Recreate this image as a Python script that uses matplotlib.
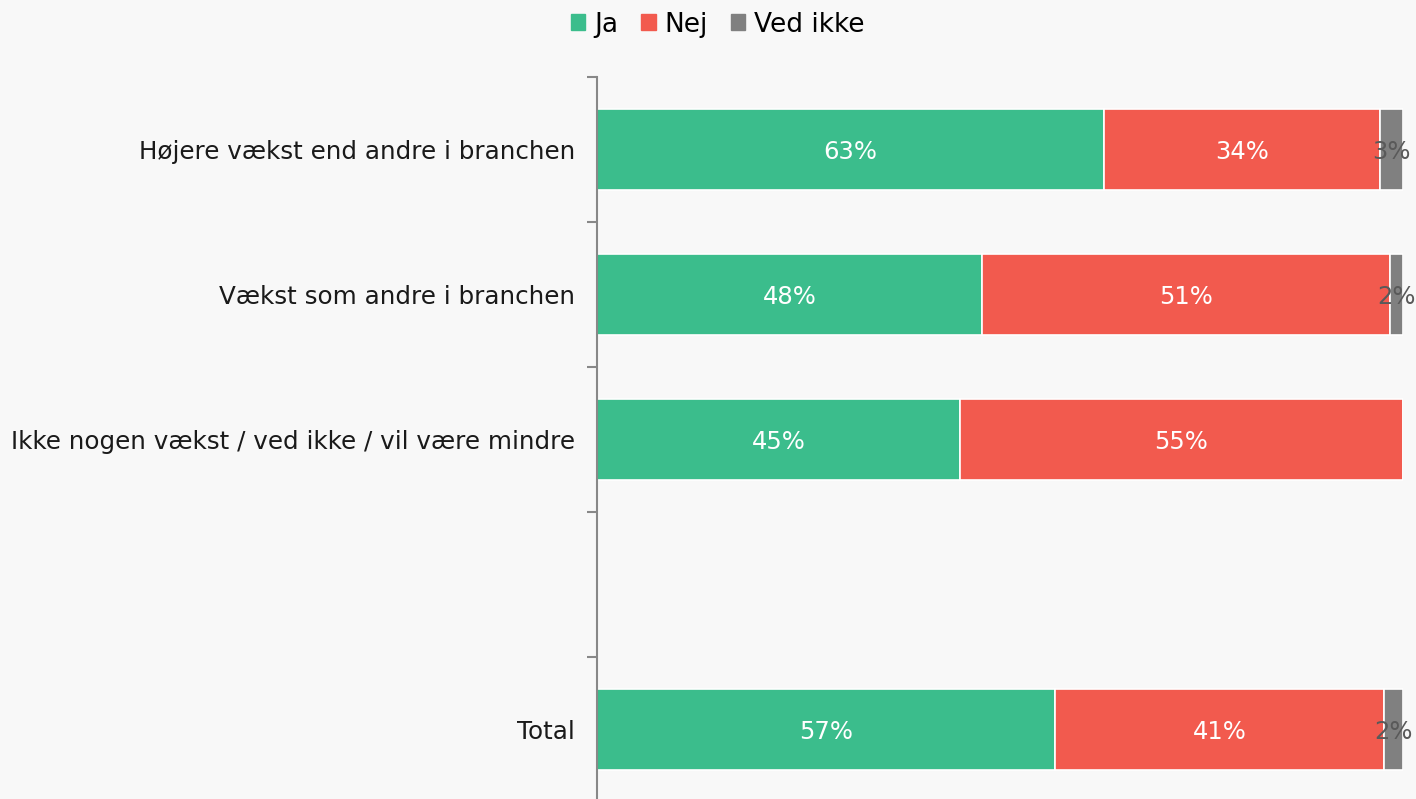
import matplotlib.pyplot as plt
import numpy as np
from matplotlib.patches import Patch
from matplotlib.ticker import FixedLocator

categories = ["Højere vækst end andre i branchen", "Vækst som andre i branchen",
              "Ikke nogen vækst / ved ikke / vil være mindre", "Total"]
slots = [0, 1, 2, 4]  # slot 3 is left empty
ja = [62.9, 47.8, 45.0, 56.8]
nej = [34.3, 50.6, 55.0, 40.9]
ved_ikke = [2.8, 1.6, 0.0, 2.3]
series = ["Ja", "Nej", "Ved ikke"]
colors = ["#3bbd8c", "#f25a4e", "#808080"]
text_colors = ["white", "white", "#595959"]

plt.rcParams['font.family'] = ['DejaVu Sans']
fig = plt.figure(figsize=(14.16, 7.99), dpi=100)
fig.patch.set_facecolor('#f8f8f8')
ax = fig.add_axes([597/1416, -3/799, (1403-597)/1416, (802-77)/799])
ax.set_facecolor('#f8f8f8')

left = np.zeros(len(slots))
for name, vals, c, tc in zip(series, [ja, nej, ved_ikke], colors, text_colors):
	vals = np.array(vals)
	ax.barh(slots, vals, left=left, height=0.555, color=c, edgecolor='white', linewidth=1.2)
	for y, l, v in zip(slots, left, vals):
		if v > 0:
			ax.text(l + v/2, y + 0.02, f"{v:.0f}%", ha='center', va='center', color=tc, fontsize=17.5)
	left += vals

ax.set_xlim(0, 100)
ax.set_ylim(4.5, -0.5)
ax.set_yticks(slots)
ax.set_yticklabels(categories, fontsize=17.7, color='#1a1a1a')
ax.yaxis.set_minor_locator(FixedLocator(np.arange(-0.5, 5.0, 1)))
ax.tick_params(axis='y', which='major', length=0, pad=16)
ax.tick_params(axis='y', which='minor', length=7, color='#888888', width=1.5)
ax.set_xticks([])
for s in ['top', 'right', 'bottom']:
	ax.spines[s].set_visible(False)
ax.spines['left'].set_color('#888888')
ax.spines['left'].set_linewidth(1.5)

handles = [Patch(color=c) for c in colors]
fig.legend(handles, series, loc='upper center', bbox_to_anchor=(0.507, 1.015), ncol=3, frameon=False,
	fontsize=19, handlelength=0.55, handleheight=0.55, handletextpad=0.35, columnspacing=0.85)

plt.savefig('out.png', dpi=100, facecolor=fig.get_facecolor())
plt.close()
